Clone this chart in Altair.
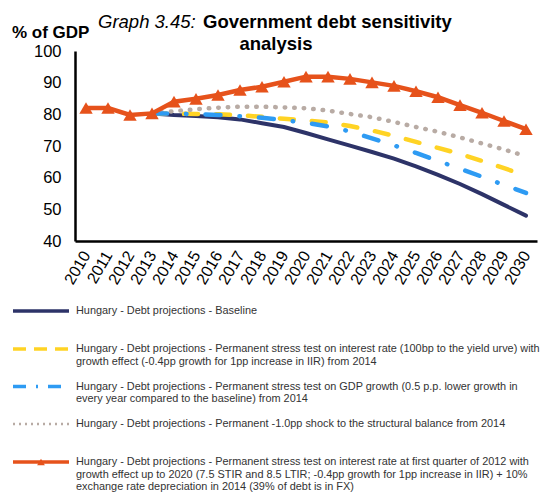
import altair as alt
import pandas as pd

# ---------------- data ----------------
years = ["2010", "2011", "2012", "2013", "2014", "2015", "2016", "2017", "2018", "2019", "2020",
         "2021", "2022", "2023", "2024", "2025", "2026", "2027", "2028", "2029", "2030"]

baseline = [None, None, None, 80.3, 79.8, 79.5, 79.1, 78.4, 77.2, 76.0, 74.1,
            72.1, 70.1, 68.1, 66.0, 63.6, 60.9, 58.0, 54.8, 51.4, 48.0]
interest = [None, None, None, 80.3, 80.2, 80.1, 80.0, 79.7, 79.2, 78.6, 78.1,
            77.4, 76.3, 74.9, 73.2, 71.3, 69.4, 67.5, 65.3, 63.0, 60.6]
gdp_growth = [None, None, None, 80.3, 80.2, 80.1, 79.8, 79.4, 78.9, 78.2, 77.3,
              76.2, 74.6, 72.4, 70.2, 67.8, 65.3, 62.8, 60.3, 57.7, 55.2]
structural = [None, None, None, 80.3, 81.0, 81.6, 82.1, 82.4, 82.4, 82.2, 81.9,
              81.2, 80.1, 79.1, 77.6, 76.0, 74.5, 72.7, 70.8, 68.9, 66.8]
stress_2012 = [82.0, 82.0, 79.8, 80.3, 84.0, 84.9, 86.1, 87.7, 88.7, 90.3, 91.9,
               91.9, 91.2, 90.1, 89.0, 87.3, 85.4, 82.9, 80.5, 77.9, 75.3]

y_ticks = [40, 50, 60, 70, 80, 90, 100]

legend_labels = [
    ["Hungary - Debt projections - Baseline"],
    ["Hungary - Debt projections - Permanent stress test on interest rate (100bp to the yield urve) with",
     "growth effect (-0.4pp growth for 1pp increase in IIR) from 2014"],
    ["Hungary - Debt projections - Permanent stress test on GDP growth (0.5 p.p. lower growth in",
     "every year compared to the baseline) from 2014"],
    ["Hungary - Debt projections - Permanent -1.0pp shock to the structural balance from 2014"],
    ["Hungary - Debt projections - Permanent stress test on interest rate at first quarter of 2012 with",
     "growth effect up to 2020 (7.5 STIR and 8.5 LTIR; -0.4pp growth for 1pp increase in IIR) + 10%",
     "exchange rate depreciation in 2014 (39% of debt is in FX)"],
]

# ---------------- styles ----------------
FONT = "Liberation Sans"
NAVY = "#2D3368"
YELLOW = "#FFD324"
BLUE = "#2E9BF3"
GRAY = "#B8ABA4"
ORANGE = "#E6521B"
TEXT = "#333333"

W, H = 462, 190

styles = [
    dict(color=NAVY, strokeWidth=4, strokeCap="round"),
    dict(color=YELLOW, strokeWidth=4.5, strokeCap="round", strokeDash=[14, 18]),
    dict(color=BLUE, strokeWidth=4.5, strokeCap="round", strokeDash=[15, 19, 0.5, 19]),
    dict(color=GRAY, strokeWidth=4.5, strokeCap="round", strokeDash=[0.5, 9]),
    dict(color=ORANGE, strokeWidth=4.5, strokeCap="butt"),
]
legend_styles = [
    dict(color=NAVY, strokeWidth=3.5),
    dict(color=YELLOW, strokeWidth=3.5, strokeDash=[13, 8]),
    dict(color=BLUE, strokeWidth=3.5, strokeDash=[13, 10, 2, 10]),
    dict(color=GRAY, strokeWidth=2.5, strokeDash=[2, 4]),
    dict(color=ORANGE, strokeWidth=3.5),
]


def sdf(vals):
    return pd.DataFrame({"year": years, "value": vals}).dropna()


x_enc = alt.X(
    "year:O",
    scale=alt.Scale(type="point", padding=0.5, domain=years),
    axis=alt.Axis(
        title=None, labelAngle=-60, labelAlign="right", labelBaseline="middle",
        labelFont=FONT, labelFontSize=16, labelColor="black", labelPadding=11,
        ticks=False, domainColor="black", domainWidth=2.5, grid=False,
    ),
)
y_enc = alt.Y(
    "value:Q",
    scale=alt.Scale(domain=[40, 100], nice=False, zero=False),
    axis=alt.Axis(
        title=None, values=y_ticks, labelFont=FONT, labelFontSize=16.5,
        labelColor="black", labelPadding=14, ticks=False, domainColor="black",
        domainWidth=2.5, grid=False,
    ),
)

layers = []
series = [baseline, interest, structural, gdp_growth]
series_styles = [styles[0], styles[1], styles[3], styles[2]]
for vals, st in zip(series, series_styles):
    layers.append(alt.Chart(sdf(vals)).mark_line(**st).encode(x=x_enc, y=y_enc))

layers.append(
    alt.Chart(sdf(stress_2012)).mark_line(
        **styles[4],
        point=alt.OverlayMarkDef(shape="triangle-up", size=180, filled=True,
                                 color=ORANGE, opacity=1),
    ).encode(x=x_enc, y=y_enc)
)

one = pd.DataFrame({"k": [0]})

# Title and y-axis unit (positions relative to plot origin)
layers.append(alt.Chart(one).mark_text(
    font=FONT, fontSize=18.5, fontStyle="italic", align="left", baseline="alphabetic", color="black"
).encode(x=alt.value(23), y=alt.value(-23), text=alt.value("Graph 3.45:")))
layers.append(alt.Chart(one).mark_text(
    font=FONT, fontSize=18.5, fontWeight="bold", align="left", baseline="alphabetic", color="black"
).encode(x=alt.value(128), y=alt.value(-23), text=alt.value("Government debt sensitivity")))
layers.append(alt.Chart(one).mark_text(
    font=FONT, fontSize=18.5, fontWeight="bold", align="center", baseline="alphabetic", color="black"
).encode(x=alt.value(201), y=alt.value(-1), text=alt.value("analysis")))
layers.append(alt.Chart(one).mark_text(
    font=FONT, fontSize=17, fontWeight="bold", align="left", baseline="alphabetic", color="black"
).encode(x=alt.value(-63), y=alt.value(-13), text=alt.value("% of GDP")))

# Legend below the plot
first_rows = [260, 298, 335.5, 373, 411]
line_step = 12.5
sym_x0, sym_x1, text_x = -62, -6, 1
for lines, st, y0 in zip(legend_labels, legend_styles, first_rows):
    layers.append(alt.Chart(one).mark_rule(**st).encode(
        x=alt.value(sym_x0), x2=alt.value(sym_x1), y=alt.value(y0)))
    for i, ln in enumerate(lines):
        layers.append(alt.Chart(one).mark_text(
            font=FONT, fontSize=10.9, align="left", baseline="middle", color=TEXT
        ).encode(x=alt.value(text_x), y=alt.value(y0 + i * line_step), text=alt.value(ln)))
layers.append(alt.Chart(one).mark_point(
    shape="triangle-up", size=60, filled=True, color=ORANGE, opacity=1
).encode(x=alt.value((sym_x0 + sym_x1) / 2), y=alt.value(first_rows[4])))

chart = alt.layer(*layers).properties(
    width=W, height=H,
    autosize=alt.AutoSizeParams(type="none"),
    padding={"left": 67, "top": 43, "right": 5, "bottom": 255},
).configure_view(stroke=None)

chart.save("out.html", embed_options={"renderer": "svg", "actions": False})
